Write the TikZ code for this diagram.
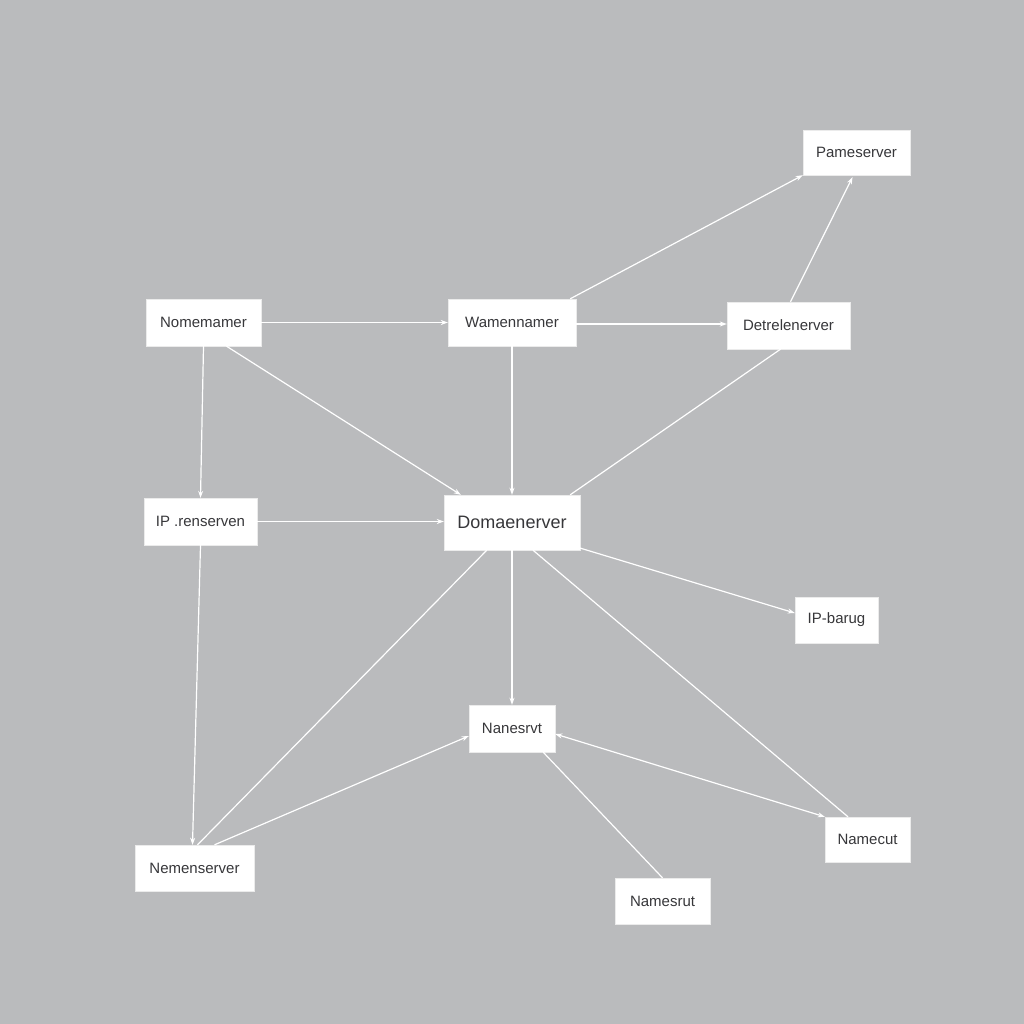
\documentclass[tikz,border=0pt]{standalone}
\usepackage{fontspec}
\setmainfont{Liberation Sans}
\usetikzlibrary{arrows.meta,calc}
\definecolor{bg}{RGB}{186,187,189}
\definecolor{txt}{RGB}{55,55,58}
\tikzset{
  box/.style={fill=white, draw=white!92!black, line width=0.4pt, inner sep=0pt, text=txt, font=\fontsize{15}{17}\selectfont},
  link/.style={draw=white, line width=1.2pt},
  arr/.style={link, -{Stealth[length=7pt,width=5pt]}},
  darr/.style={link, {Stealth[length=7pt,width=5pt]}-{Stealth[length=7pt,width=5pt]}}
}
\begin{document}
\begin{tikzpicture}[x=1pt,y=-1pt]
\fill[bg] (0,0) rectangle (1024,1024);
\useasboundingbox (0,0) rectangle (1024,1024);

\node[box, minimum width=107pt, minimum height=45pt] (pame) at (856.5,152.5) {Pameserver};
\node[box, minimum width=115pt, minimum height=47pt] (nom) at (203.5,322.5) {Nomemamer};
\node[box, minimum width=128pt, minimum height=47pt] (wam) at (512,322.5) {Wamennamer};
\node[box, minimum width=123pt, minimum height=47pt] (det) at (788.5,325.5) {Detrelenerver};
\node[box, minimum width=113pt, minimum height=47pt] (ren) at (200.5,521.5) {IP .renserven};
\node[box, minimum width=136pt, minimum height=55pt, font=\fontsize{18}{20}\selectfont] (dom) at (512,522.5) {Domaenerver};
\node[box, minimum width=83pt, minimum height=46pt] (ipb) at (836.5,620) {IP-barug};
\node[box, minimum width=86pt, minimum height=47pt] (nan) at (512,728.5) {Nanesrvt};
\node[box, minimum width=119pt, minimum height=46pt] (nem) at (194.5,868) {Nemenserver};
\node[box, minimum width=85pt, minimum height=45pt] (ncut) at (867.5,839.5) {Namecut};
\node[box, minimum width=95pt, minimum height=46pt] (nrut) at (662.5,901) {Namesrut};

% top row
\draw[arr] (nom.east) -- (wam.west);
\draw[arr] ([yshift=-1.5pt]wam.east) -- ([yshift=-1.5pt]wam.east -| det.west);
\draw[arr] ([xshift=-6pt]wam.north east) -- (pame.south west);
\draw[arr] ([xshift=2pt]det.north) -- ([xshift=-4pt,yshift=-2pt]pame.south);

% from Nomemamer
\draw[arr] (nom.south) -- (ren.north);
\draw[arr] ([xshift=23pt]nom.south) -- ([xshift=17pt]dom.north west);
\draw[arr] (wam.south) -- (dom.north);
\draw[link] ([xshift=-8pt]det.south) -- ([xshift=-10pt]dom.north east);

% middle row
\draw[arr] (ren.east) -- (ren.east -| dom.west);
\draw[arr] (ren.south) -- ([xshift=-2pt]nem.north);
\draw[link] ([xshift=43pt]dom.south west) -- ([xshift=3pt]nem.north);
\draw[arr] ([xshift=-3pt,yshift=3pt]dom.south east) -- ([yshift=7pt]ipb.west);

% lower part
\draw[arr] (dom.south) -- (nan.north);
\draw[link] ([xshift=21pt]dom.south) -- ([xshift=-19.5pt]ncut.north);
\draw[arr] ([xshift=20pt]nem.north) -- ([yshift=-7.5pt]nan.west);
\draw[darr] (ncut.north west) -- ([yshift=-5.5pt]nan.east);
\draw[link] ([xshift=-12pt]nan.south east) -- (nrut.north);
\end{tikzpicture}
\end{document}
